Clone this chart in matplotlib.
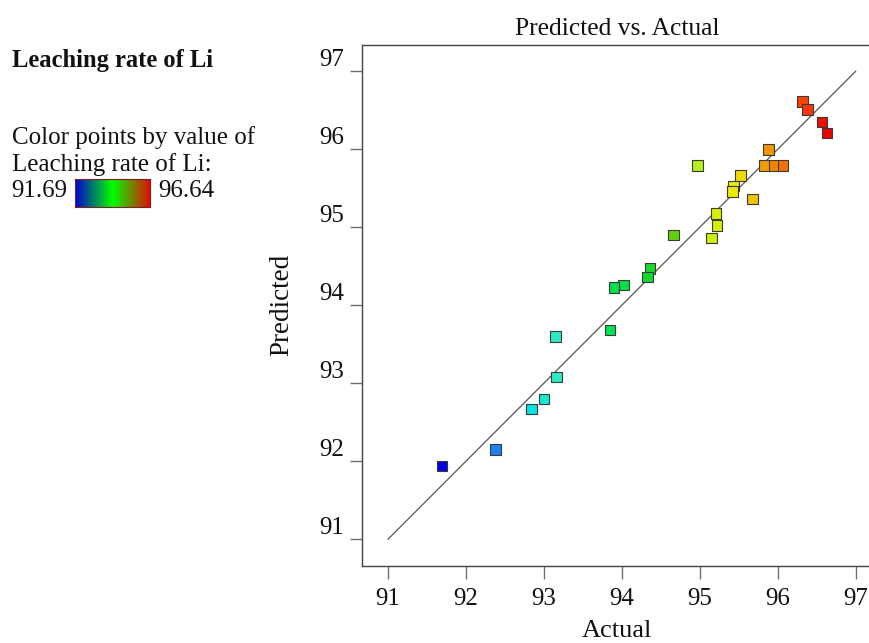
import numpy as np
import matplotlib
matplotlib.use('Agg')
import matplotlib.pyplot as plt
from matplotlib.colors import LinearSegmentedColormap, Normalize

plt.rcParams['font.family'] = ['Liberation Serif', 'DejaVu Serif']

# ── DATA ──────────────────────────────────────────────────────────────
actual = [96.32, 96.38, 96.57, 96.63, 95.88, 95.83, 95.95, 96.07,
          94.97, 95.52, 95.43, 95.42, 95.68, 95.21, 95.22, 95.15,
          94.66, 94.36, 94.33, 94.02, 93.90, 93.85, 93.15, 93.16,
          93.00, 92.84, 92.38, 91.69]
predicted = [96.61, 96.51, 96.35, 96.21, 96.00, 95.79, 95.79, 95.79,
             95.79, 95.66, 95.53, 95.46, 95.36, 95.18, 95.02, 94.86,
             94.90, 94.47, 94.36, 94.26, 94.23, 93.68, 93.60, 93.08,
             92.80, 92.67, 92.15, 91.94]
ticks = [91, 92, 93, 94, 95, 96, 97]
vmin, vmax = 91.69, 96.64

# ── COLOURS ──────────────────────────────────────────────────────────
pt_cmap = LinearSegmentedColormap.from_list('de_pts', [
    (0.00, '#0000e6'), (0.14, '#1a86f0'), (0.23, '#00e6e6'),
    (0.30, '#30e8c0'), (0.44, '#00e050'), (0.53, '#10d830'),
    (0.60, '#60d010'), (0.66, '#b0f020'), (0.71, '#d8f000'),
    (0.76, '#f0e800'), (0.81, '#f0c000'), (0.86, '#f08800'),
    (0.94, '#ff4000'), (1.00, '#ee0000')])
bar_cmap = LinearSegmentedColormap.from_list('de_bar', ['#0000d0', '#00ff00', '#e01000'])

W, H = 870, 643
fig = plt.figure(figsize=(W / 100, H / 100), dpi=100)

# main axes (right edge runs just past the image)
ax = fig.add_axes([362.3 / W, 1 - 565.7 / H, (872 - 362.3) / W, (565.7 - 45) / H])
ax.set_xlim(90.67, 97.21)
ax.set_ylim(90.66, 97.337)

ax.plot([91, 97], [91, 97], color='#555555', linewidth=0.9, zorder=1)
ax.scatter(actual, predicted, c=actual, cmap=pt_cmap, norm=Normalize(vmin, vmax),
           marker='s', s=58, edgecolors='#3a3a3a', linewidths=0.8, zorder=3)

ax.set_xticks(ticks)
ax.set_yticks(ticks)
ax.tick_params(axis='both', direction='out', length=9, width=1, color='#707070',
               labelsize=18, labelcolor='#111111')
ax.tick_params(axis='x', pad=7)
ax.tick_params(axis='y', pad=4)
for lbl in ax.get_yticklabels():
    lbl.set_verticalalignment('bottom')
for s in ax.spines.values():
    s.set_color('#444444')
    s.set_linewidth(1.0)

ax.set_title('Predicted vs. Actual', fontsize=18.4, pad=7, color='#111111')
ax.set_xlabel('Actual', fontsize=19, labelpad=7, color='#111111')
ax.set_ylabel('Predicted', fontsize=19.5, labelpad=18, color='#111111')

# ── LEGEND TEXT ──────────────────────────────────────────────────────
fig.text(12 / W, 1 - 66.7 / H, 'Leaching rate of Li', fontsize=17.7, fontweight='bold',
         va='baseline', color='#111111')
fig.text(12 / W, 1 - 144.3 / H, 'Color points by value of', fontsize=18,
         va='baseline', color='#111111')
fig.text(12 / W, 1 - 170.7 / H, 'Leaching rate of Li:', fontsize=18,
         va='baseline', color='#111111')
fig.text(11 / W, 1 - 196.7 / H, f'{vmin:.2f}', fontsize=18, va='baseline', color='#111111')
fig.text(158 / W, 1 - 196.7 / H, f'{vmax:.2f}', fontsize=18, va='baseline', color='#111111')

cax = fig.add_axes([75 / W, 1 - 207 / H, 75 / W, 28 / H])
cax.imshow(np.linspace(0, 1, 256)[None, :], aspect='auto', cmap=bar_cmap)
cax.set_xticks([])
cax.set_yticks([])
for s in cax.spines.values():
    s.set_color('#802020')
    s.set_linewidth(0.8)

fig.savefig('out.png', dpi=100)
